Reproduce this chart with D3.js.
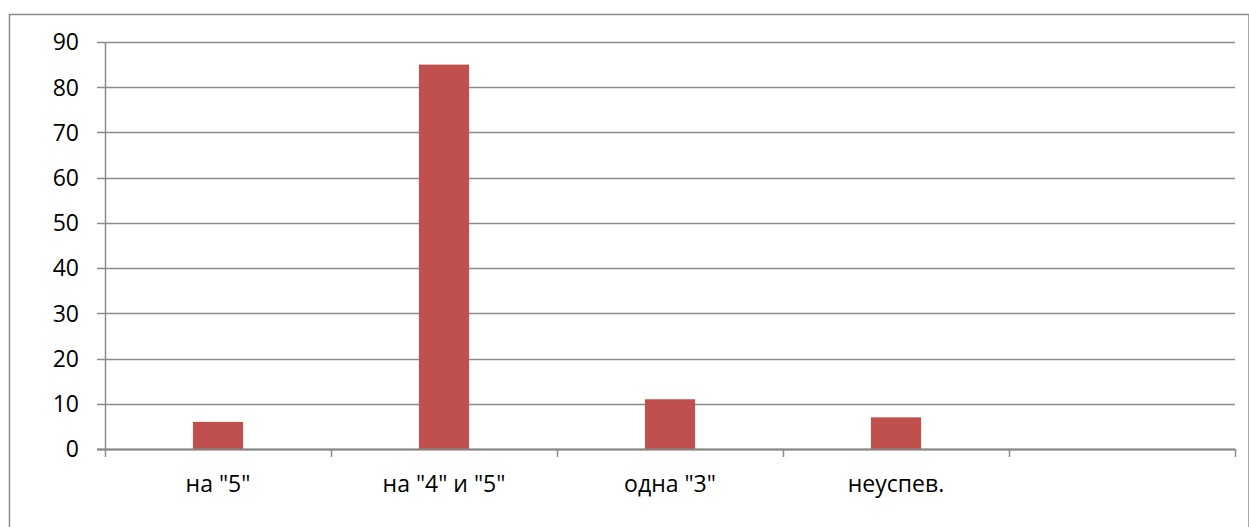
<!DOCTYPE html>
<html>
<head>
<meta charset="utf-8">
<script src="https://cdn.jsdelivr.net/npm/d3@7"></script>
<style>
  body { margin: 0; background: #fff; }
  svg text { font-family: "Open Sans", "DejaVu Sans", sans-serif; fill: #000; }
</style>
</head>
<body>
<svg id="chart" width="1249" height="527"></svg>
<script>
const categories = ['на "5"', 'на "4" и "5"', 'одна "3"', 'неуспев.', ''];
const values = [6, 85, 11, 7, null];
const yTicks = [0, 10, 20, 30, 40, 50, 60, 70, 80, 90];

var margin = { top: 42, left: 105, right: 14, bottom: 78 },
    width = 1249 - margin.left - margin.right,
    height = 527 - margin.top - margin.bottom;

var svg = d3.select("#chart");

// outer frame
svg.append("rect")
  .attr("x", 9.5).attr("y", 14.5)
  .attr("width", 1249 - 9.5).attr("height", 527 - 14.5 + 5)
  .attr("fill", "none")
  .attr("stroke", "#8a8a8a")
  .attr("stroke-width", 1.5);

var g = svg.append("g").attr("transform", "translate(" + margin.left + "," + margin.top + ")");

var x = d3.scaleBand().domain(categories.map((c, i) => i)).range([0, width]).padding(0);
var y = d3.scaleLinear().domain([0, 90]).range([height, 0]);

// gridlines + y ticks
g.selectAll(".grid")
  .data(yTicks)
  .enter().append("line")
  .attr("x1", -8).attr("x2", width)
  .attr("y1", d => Math.round(y(d)) + 0.5).attr("y2", d => Math.round(y(d)) + 0.5)
  .attr("stroke", "#8c8c8c")
  .attr("stroke-width", 1.5);

g.selectAll(".ylab")
  .data(yTicks)
  .enter().append("text")
  .attr("x", -26)
  .attr("y", d => y(d))
  .attr("dy", "0.36em")
  .attr("text-anchor", "end")
  .style("font-size", "23px")
  .text(d => d);

// y axis line
g.append("line")
  .attr("x1", 0.5).attr("x2", 0.5)
  .attr("y1", y(90)).attr("y2", height + 8)
  .attr("stroke", "#8c8c8c").attr("stroke-width", 1.5);

// category ticks
var bounds = categories.map((c, i) => x(i)).concat([width]);
g.selectAll(".xtick")
  .data(bounds.slice(1))
  .enter().append("line")
  .attr("x1", d => Math.round(d) + 0.5).attr("x2", d => Math.round(d) + 0.5)
  .attr("y1", height).attr("y2", height + 8)
  .attr("stroke", "#8c8c8c").attr("stroke-width", 1.5);

// bars
var barW = x.bandwidth() * 0.222;
g.selectAll(".bar")
  .data(values.map((v, i) => ({ v: v, i: i })).filter(d => d.v != null))
  .enter().append("rect")
  .attr("x", d => x(d.i) + (x.bandwidth() - barW) / 2)
  .attr("y", d => y(d.v))
  .attr("width", barW)
  .attr("height", d => height - y(d.v))
  .attr("fill", "#c0504d");

// x axis line on top
g.append("line")
  .attr("x1", -8).attr("x2", width)
  .attr("y1", height + 0.5).attr("y2", height + 0.5)
  .attr("stroke", "#868686").attr("stroke-width", 2);

// category labels
g.selectAll(".xlab")
  .data(categories)
  .enter().append("text")
  .attr("x", (d, i) => x(i) + x.bandwidth() / 2)
  .attr("y", height + 43)
  .attr("text-anchor", "middle")
  .style("font-size", "23px")
  .text(d => d);
</script>
</body>
</html>
